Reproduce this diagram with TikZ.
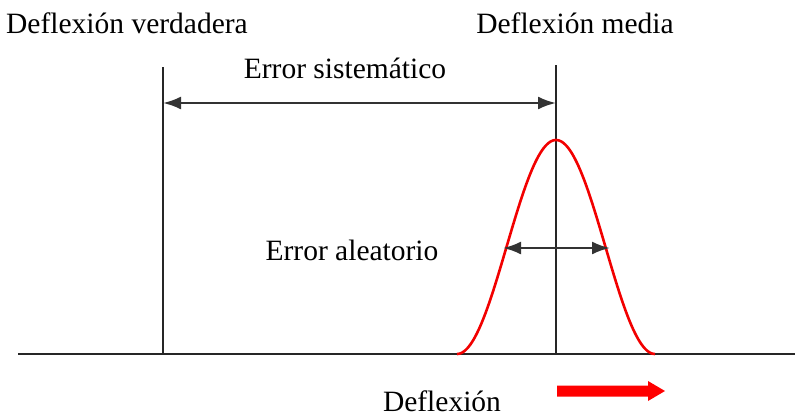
\documentclass[tikz,border=0pt]{standalone}
\usepackage{fontspec}
\setmainfont{Liberation Serif}
\usetikzlibrary{arrows.meta}
\begin{document}
\begin{tikzpicture}[x=1pt,y=-1pt,
  lbl/.style={inner sep=0pt,anchor=base,font=\fontsize{29.5}{34}\selectfont},
  axis/.style={line width=2.8pt,draw=black!85},
  dim/.style={line width=2.4pt,draw=black!80,{Latex[length=18pt,width=13pt]}-{Latex[length=18pt,width=13pt]}},
  curve/.style={line width=2.6pt,draw=red!95!black}]
\useasboundingbox (0,0) rectangle (795,416);
% coordinates
\coordinate (b0) at (18,354);
\coordinate (b1) at (795,354);
\coordinate (t0) at (163,67);
\coordinate (t1) at (163,354);
\coordinate (m0) at (556,65);
\coordinate (m1) at (556,354);
\coordinate (s0) at (163,103);
\coordinate (s1) at (556,103);
\coordinate (r0) at (503,248);
\coordinate (r1) at (610,248);
% lines
\draw[axis] (b0) -- (b1);
\draw[axis] (t0) -- (t1);
\draw[axis] (m0) -- (m1);
% bell-shaped curve
\draw[curve] plot[domain=-99:99,samples=120,smooth] ({556+\x},{354-107*(1+cos(1.818*\x))});
% dimension arrows
\draw[dim] (s0) -- (s1);
\draw[dim] (r0) -- (r1);
% red arrow
\fill[red] (557,385.5) -- (648,385.5) -- (648,381) -- (665,391) -- (648,401) -- (648,396.5) -- (557,396.5) -- cycle;
% labels
\node[lbl] (dv) at (127,33) {Deflexión verdadera};
\node[lbl] (dm) at (575,33) {Deflexión media};
\node[lbl] (es) at (345,78) {Error sistemático};
\node[lbl] (ea) at (352,260) {Error aleatorio};
\node[lbl] (de) at (442,411) {Deflexión};
\end{tikzpicture}
\end{document}
